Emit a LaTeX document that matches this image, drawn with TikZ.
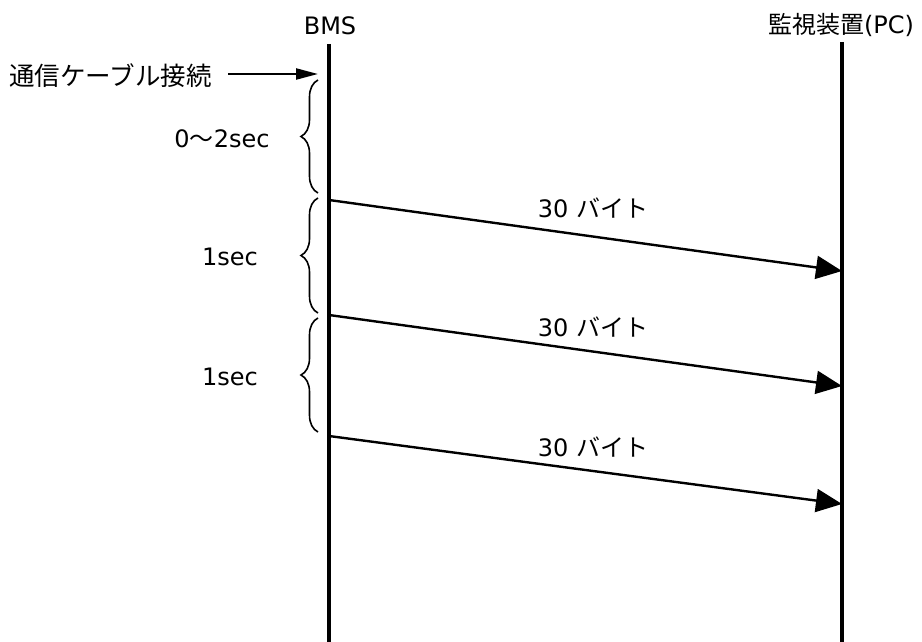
\documentclass[tikz,border=0pt]{standalone}
\usepackage{fontspec}
\setmainfont{DejaVu Sans}
\newfontfamily\jp{Noto Sans CJK JP}
\usetikzlibrary{arrows.meta,decorations.pathreplacing}
\begin{document}
\begin{tikzpicture}[x=1pt,y=-1pt,
  lbl/.style={font=\fontsize{24}{28}\selectfont, inner sep=0pt},
  life/.style={line width=3.2pt},
  msg/.style={line width=2.4pt, -{Triangle[length=26pt,width=23pt]}},
  brc/.style={line width=1.6pt, decorate, decoration={brace, amplitude=17pt}}]
\useasboundingbox (0,0) rectangle (922,642);
% lifelines
\node[lbl] (bms) at (330,26) {BMS};
\node[lbl] (pc) at (841,25) {{\jp 監視装置}(PC)};
\coordinate (bmsT) at (329,44);
\coordinate (bmsB) at (329,642);
\coordinate (pcT) at (842,42);
\coordinate (pcB) at (842,642);
\draw[life] (bmsT) -- (bmsB);
\draw[life] (pcT) -- (pcB);
% connection
\node[lbl, anchor=west] (conn) at (9,76) {\jp\fontsize{25.5}{28}\selectfont 通信ケーブル接続};
\coordinate (connS) at (228,74);
\coordinate (connE) at (318,74);
\draw[line width=2.2pt, -{Triangle[length=22pt,width=11pt]}] (connS) -- (connE);
% braces
\draw[brc] (318,193) -- (318,80);
\node[lbl] (t0) at (222,139) {0{\jp 〜}2sec};
\draw[brc] (318,313) -- (318,198);
\node[lbl] (t1) at (230,257) {1sec};
\draw[brc] (318,432) -- (318,318);
\node[lbl] (t2) at (230,377) {1sec};
% messages
\coordinate (s1) at (329,200); \coordinate (e1) at (842,271);
\coordinate (s2) at (329,315); \coordinate (e2) at (842,386);
\coordinate (s3) at (329,436); \coordinate (e3) at (842,504);
\draw[msg] (s1) -- (e1);
\draw[msg] (s2) -- (e2);
\draw[msg] (s3) -- (e3);
\node[lbl] (m1) at (593,208) {30 {\jp バイト}};
\node[lbl] (m2) at (593,327) {30 {\jp バイト}};
\node[lbl] (m3) at (593,447) {30 {\jp バイト}};
\end{tikzpicture}
\end{document}
